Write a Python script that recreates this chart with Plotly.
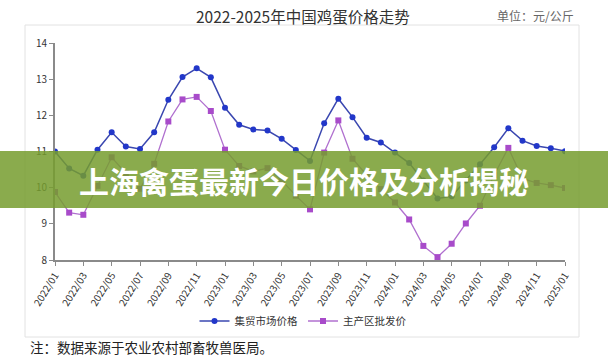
import plotly.graph_objects as go

months = [f"{y}/{m:02d}" for y in (2022, 2023, 2024) for m in range(1, 13)] + ["2025/01"]

market_price = [11.00, 10.53, 10.33, 11.05, 11.53, 11.14, 11.07, 11.53, 12.43, 13.06, 13.30, 13.05,
                12.21, 11.74, 11.61, 11.58, 11.35, 11.04, 10.74, 11.78, 12.46, 11.95, 11.38, 11.25,
                10.97, 10.68, 10.20, 9.70, 9.76, 10.20, 10.65, 11.12, 11.64, 11.30, 11.15, 11.09,
                11.01]

wholesale_price = [9.88, 9.31, 9.25, 10.05, 10.84, 10.40, 9.97, 10.66, 11.83, 12.44, 12.51, 12.12,
                   11.05, 10.60, 10.45, 10.54, 10.20, 9.78, 9.40, 10.97, 11.86, 10.80, 10.35, 9.96,
                   9.59, 9.12, 8.39, 8.08, 8.45, 9.01, 9.50, 10.35, 11.10, 10.25, 10.13, 10.07,
                   9.99]

series_names = ["集贸市场价格", "主产区批发价"]
tick_labels = months[::2]

title_text = "2022-2025年中国鸡蛋价格走势"
unit_text = "单位：元/公斤"
note_text = "注：数据来源于农业农村部畜牧兽医局。"
banner_text = "上海禽蛋最新今日价格及分析揭秘"

W, H = 608, 360
L, R, T, B = 55, 43, 43, 100
PW, PH = W - L - R, H - T - B

def px(x):
    return (x - L) / PW

def py(y):
    return (H - B - y) / PH

FONT = "Noto Sans CJK SC"

fig = go.Figure()
fig.add_trace(go.Scatter(
    x=months, y=market_price, name=series_names[0], mode="lines+markers",
    line=dict(color="#3a47b0", width=1.5),
    marker=dict(symbol="circle", size=6, color="#2237c9"),
))
fig.add_trace(go.Scatter(
    x=months, y=wholesale_price, name=series_names[1], mode="lines+markers",
    line=dict(color="#b070cf", width=1.3),
    marker=dict(symbol="square", size=6, color="#a84bca"),
))

fig.update_layout(
    width=W, height=H,
    margin=dict(l=L, r=R, t=T, b=B, autoexpand=False),
    paper_bgcolor="white", plot_bgcolor="white",
    font=dict(family=FONT, color="#333", size=10),
    showlegend=True,
    legend=dict(orientation="h", x=px(303), y=py(321), xanchor="center", yanchor="middle",
                font=dict(size=10.5, color="#333"), bgcolor="rgba(0,0,0,0)",
                itemwidth=30, tracegroupgap=0),
    xaxis=dict(
        type="category", categoryorder="array", categoryarray=months,
        range=[0, len(months) - 1], automargin=False,
        tickmode="array", tickvals=tick_labels, ticktext=tick_labels,
        tickangle=-58, tickfont=dict(size=10, color="#333"),
        showline=True, linecolor="#8a8a8a", linewidth=1.5,
        ticks="outside", ticklen=4, tickcolor="#8a8a8a",
        showgrid=False, zeroline=False,
    ),
    yaxis=dict(
        range=[8, 14], dtick=1, tickfont=dict(size=10, color="#333"), automargin=False,
        showline=True, linecolor="#8a8a8a", linewidth=2,
        ticks="outside", ticklen=4, tickcolor="#8a8a8a",
        showgrid=False, zeroline=False,
    ),
)

# outer light border box
fig.add_shape(type="rect", xref="paper", yref="paper",
              x0=px(25), x1=px(579), y0=py(337), y1=py(25),
              line=dict(color="#e2e2e2", width=1), fillcolor="rgba(0,0,0,0)", layer="below")

# banner
fig.add_shape(type="rect", xref="paper", yref="paper",
              x0=px(0), x1=px(W), y0=py(208), y1=py(151),
              line=dict(width=0), fillcolor="rgba(117,156,46,0.85)", layer="above")

fig.add_annotation(text=title_text, xref="paper", yref="paper", x=px(303), y=py(16),
                   showarrow=False, xanchor="center", yanchor="middle",
                   font=dict(size=15.5, color="#333", family=FONT))
fig.add_annotation(text=unit_text, xref="paper", yref="paper", x=px(535), y=py(16),
                   showarrow=False, xanchor="center", yanchor="middle",
                   font=dict(size=12, color="#666", family=FONT))
fig.add_annotation(text=note_text, xref="paper", yref="paper", x=px(28), y=py(347),
                   showarrow=False, xanchor="left", yanchor="middle",
                   font=dict(size=13.5, color="#222", family=FONT))
fig.add_annotation(text="<b>" + banner_text + "</b>", xref="paper", yref="paper", x=px(304), y=py(180),
                   showarrow=False, xanchor="center", yanchor="middle",
                   font=dict(size=30, color="white", family=FONT))

fig.write_html("out.html", config={"displayModeBar": False},
               post_script="document.body.style.margin='0';document.body.style.overflow='hidden';")
